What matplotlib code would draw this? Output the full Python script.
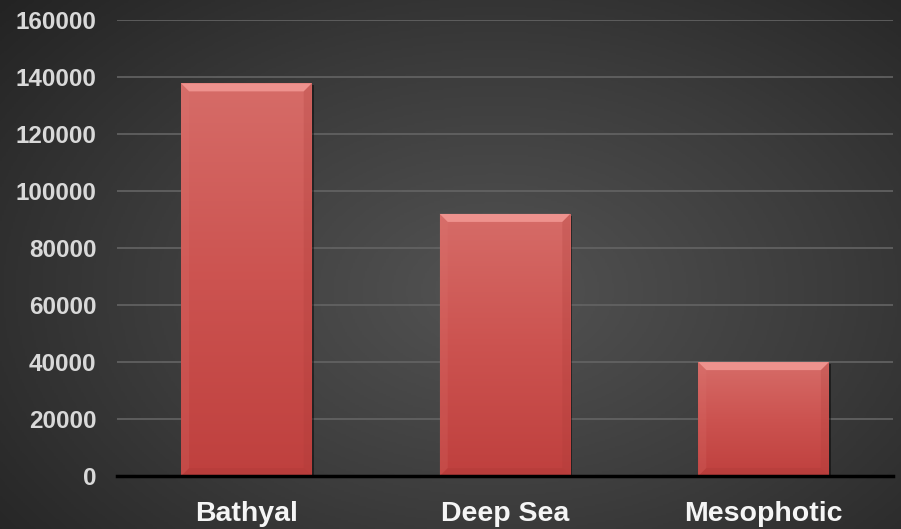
import numpy as np
import matplotlib
matplotlib.use("Agg")
import matplotlib.pyplot as plt
from matplotlib.colors import LinearSegmentedColormap
from matplotlib.patches import Polygon
import matplotlib.patheffects as pe

categories = ["Bathyal", "Deep Sea", "Mesophotic"]
values = [137800, 92000, 40000]
y_ticks = [0, 20000, 40000, 60000, 80000, 100000, 120000, 140000, 160000]

plt.rcParams["font.family"] = ["Liberation Sans", "DejaVu Sans"]

fig = plt.figure(figsize=(9.01, 5.29), dpi=100)

# dark radial background
bg = fig.add_axes([0, 0, 1, 1], zorder=-10)
yy, xx = np.mgrid[0:1:300j, 0:1:500j]
r = np.sqrt(((xx - 0.55) / 0.75) ** 2 + ((yy - 0.55) / 0.85) ** 2)
r = np.clip(r, 0, 1)
bg_cmap = LinearSegmentedColormap.from_list("bg", ["#535353", "#3c3c3c", "#222222"])
bg.imshow(r, cmap=bg_cmap, aspect="auto", extent=[0, 1, 0, 1], origin="upper", vmin=0, vmax=1)
bg.set_axis_off()

ax = fig.add_axes([0.13, 0.100, 0.861, 0.862])
ax.patch.set_alpha(0)

x = np.arange(len(categories))
bar_w = 0.505
bars = ax.bar(x, values, width=bar_w, color="#c94d4a", zorder=3,
              path_effects=[pe.SimplePatchShadow(offset=(1.5, -1.5), shadow_rgbFace="black", alpha=0.45),
                            pe.Normal()])

ax.set_xlim(-0.5, 2.5)
ax.set_ylim(0, 160000)

# vertical gradient on each bar
bar_cmap = LinearSegmentedColormap.from_list("bar", ["#bf403e", "#cc5350", "#d66c68"])
grad = np.linspace(0, 1, 256).reshape(-1, 1)
for b in bars:
    x0, y0, w, h = b.get_x(), b.get_y(), b.get_width(), b.get_height()
    im = ax.imshow(grad, extent=[x0, x0 + w, y0, y0 + h], origin="lower",
                   aspect="auto", cmap=bar_cmap, zorder=4)
    im.set_clip_path(b)

ax.set_xlim(-0.5, 2.5)
ax.set_ylim(0, 160000)

# bevel edges
fig.canvas.draw()
inv = ax.transData.inverted()
p0 = inv.transform((0, 0))
p1 = inv.transform((8, 8))
dx, dy = p1[0] - p0[0], p1[1] - p0[1]
for b in bars:
    x0, y0, w, h = b.get_x(), b.get_y(), b.get_width(), b.get_height()
    x1, y1 = x0 + w, y0 + h
    faces = [
        ([(x0, y1), (x1, y1), (x1 - dx, y1 - dy), (x0 + dx, y1 - dy)], "#f39a95", 0.85),
        ([(x0, y0), (x0, y1), (x0 + dx, y1 - dy), (x0 + dx, y0 + dy)], "#e07a75", 0.18),
        ([(x1, y0), (x1, y1), (x1 - dx, y1 - dy), (x1 - dx, y0 + dy)], "#a83a37", 0.22),
        ([(x0, y0), (x1, y0), (x1 - dx, y0 + dy), (x0 + dx, y0 + dy)], "#9e3432", 0.2),
    ]
    for pts, col, a in faces:
        ax.add_patch(Polygon(pts, closed=True, facecolor=col, edgecolor="none", alpha=a, zorder=5))

ax.set_yticks(y_ticks)
ax.set_yticklabels([str(v) for v in y_ticks])
ax.set_xticks(x)
ax.set_xticklabels(categories)
ax.yaxis.grid(True, color="#646464", linewidth=1.2, zorder=0)
ax.set_axisbelow(True)

for s in ["left", "right", "top"]:
    ax.spines[s].set_visible(False)
ax.spines["bottom"].set_color("black")
ax.spines["bottom"].set_linewidth(2.5)
ax.spines["bottom"].set_zorder(6)

ax.tick_params(axis="both", length=0)
ax.tick_params(axis="y", pad=15, labelsize=17.5, labelcolor="#d9d9d9")
ax.tick_params(axis="x", pad=18, labelsize=20.5, labelcolor="#f5f5f5")
for lbl in ax.get_yticklabels() + ax.get_xticklabels():
    lbl.set_fontweight("bold")

fig.savefig("out.png", dpi=100)
